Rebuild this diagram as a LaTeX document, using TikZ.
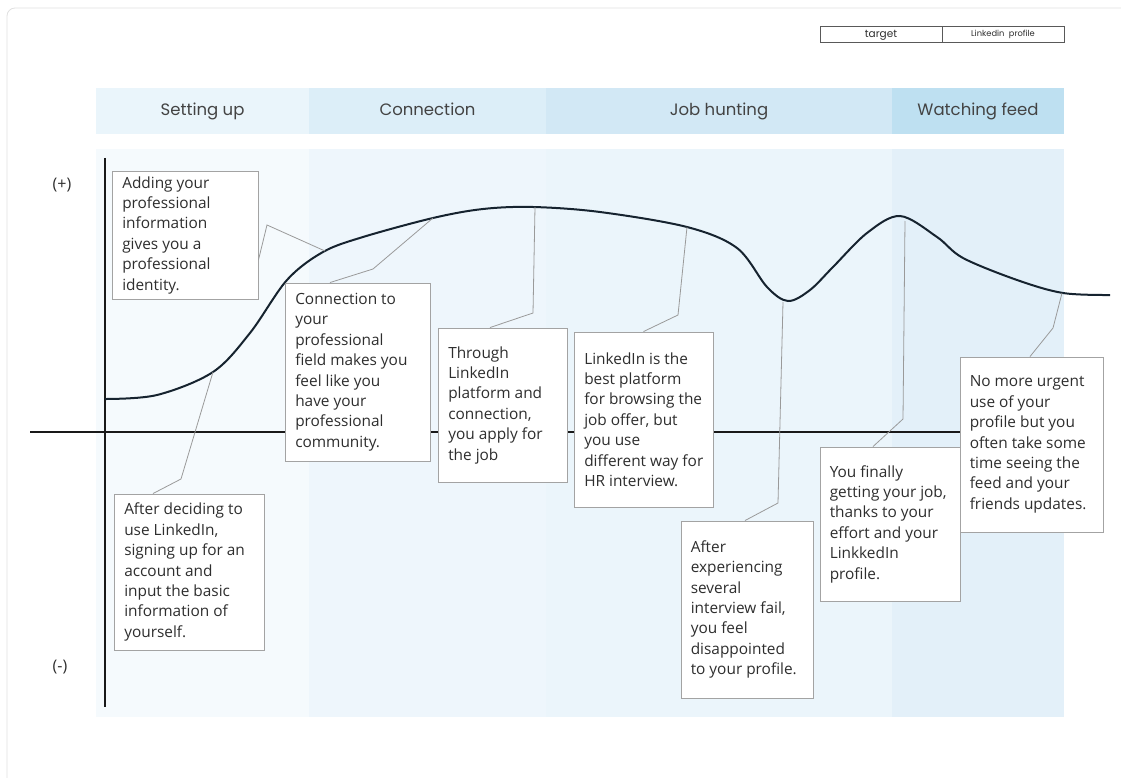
\documentclass[tikz,border=0pt]{standalone}
\usepackage{fontspec}
\setmainfont{Open Sans}
\newfontfamily\headfont{Poppins}
\definecolor{hA}{HTML}{EAF5FB}
\definecolor{hB}{HTML}{DCEEF8}
\definecolor{hC}{HTML}{D2E8F5}
\definecolor{hD}{HTML}{BEE0F1}
\definecolor{bA}{HTML}{F5FAFD}
\definecolor{bB}{HTML}{EEF6FC}
\definecolor{bC}{HTML}{EBF5FB}
\definecolor{bD}{HTML}{E3F0F9}
\definecolor{boxgray}{HTML}{A3A3A3}
\definecolor{leadgray}{HTML}{9A9A9A}
\definecolor{txt}{HTML}{2E2E2E}
\definecolor{curvec}{HTML}{16232F}
\begin{document}
\begin{tikzpicture}[x=1pt,y=-1pt,
  tbox/.style={draw=boxgray, fill=white, line width=0.9pt, inner sep=0pt},
  ttext/.style={anchor=west, align=left, inner sep=0pt, text=txt, font=\fontsize{15.4pt}{20.4pt}\selectfont},
  leader/.style={draw=leadgray, line width=0.8pt},
  hdr/.style={inner sep=0pt, text height=12pt, text depth=3.5pt, text=txt!90, font=\headfont\fontsize{16.5pt}{19pt}\selectfont},
  tab/.style={draw=black!65, line width=0.7pt, inner sep=0pt, minimum height=16pt, text height=7.5pt, text depth=2pt, text=txt, font=\headfont\fontsize{10.5pt}{11pt}\selectfont}]
\useasboundingbox (0,0) rectangle (1121,778);
\begin{scope}
\clip (0,0) rectangle (1121,778);
\draw[black!12, line width=0.8pt, rounded corners=8pt] (7,8) rectangle (1160,820);
\end{scope}
% table at top right
\node[tab, minimum width=122pt] (tg) at (881,34.5) {target};
\node[tab, minimum width=122pt, text height=6pt, text depth=1.8pt, font=\headfont\fontsize{8.3pt}{9pt}\selectfont] (lp) at (1003,34.5) {Linkedin\ \ profile};
% header bands
\node[hdr, fill=hA, minimum width=213pt, minimum height=46pt] (p1) at (202.5,111) {Setting up};
\node[hdr, fill=hB, minimum width=237pt, minimum height=46pt] (p2) at (427.5,111) {Connection};
\node[hdr, fill=hC, minimum width=346pt, minimum height=46pt] (p3) at (719,111) {Job hunting};
\node[hdr, fill=hD, minimum width=172pt, minimum height=46pt] (p4) at (978,111) {Watching feed};
% body bands
\fill[bA] (96,149) rectangle (309,717);
\fill[bB] (309,149) rectangle (546,717);
\fill[bC] (546,149) rectangle (892,717);
\fill[bD] (892,149) rectangle (1064,717);
% axes
\coordinate (yt) at (105,158);
\coordinate (yb) at (105,707);
\coordinate (xl) at (30,432);
\coordinate (xr) at (1065,432);
\draw[black!90, line width=1.7pt] (yt) -- (yb);
\draw[black!90, line width=1.7pt] (xl) -- (xr);
\node[text=txt, font=\fontsize{16pt}{18pt}\selectfont] (plus) at (62,185) {(+)};
\node[text=txt, font=\fontsize{16pt}{18pt}\selectfont] (minus) at (60,667) {(-)};
% curve
\draw[curvec, line width=2pt] plot[smooth, tension=0.55] coordinates {
 (105,399) (157,395) (213,372) (250,333) (287,280) (323,252) (363,237) (433,218) (483,209) (533,207) (600,212) (687,227) (737,248) (767,287) (788,301) (810,290) (833,267) (867,233) (900,216) (937,237) (963,258) (1017,280) (1063,293) (1110,295)};
% curve points and bends
\coordinate (c1) at (325,251); \coordinate (k1) at (267,225);
\coordinate (c2) at (433,218); \coordinate (k2) at (373,269);
\coordinate (c3) at (535,207); \coordinate (k3) at (533,313);
\coordinate (c4) at (687,227); \coordinate (k4) at (678,315);
\coordinate (c5) at (783,302); \coordinate (k5) at (778,503);
\coordinate (c6) at (905,221); \coordinate (k6) at (903,419);
\coordinate (c7) at (1062,293); \coordinate (k7) at (1053,328);
\coordinate (c8) at (213,372); \coordinate (k8) at (181,479);
% boxes
\node[tbox, minimum width=146pt, minimum height=128pt] (b1) at (185,235) {};
\node[tbox, minimum width=145pt, minimum height=178pt] (b2) at (357.5,372) {};
\node[tbox, minimum width=129pt, minimum height=154pt] (b3) at (502.5,405) {};
\node[tbox, minimum width=139pt, minimum height=175pt] (b4) at (643.5,419.5) {};
\node[tbox, minimum width=132pt, minimum height=177pt] (b5) at (747,609.5) {};
\node[tbox, minimum width=140pt, minimum height=154pt] (b6) at (890,524) {};
\node[tbox, minimum width=143pt, minimum height=175pt] (b7) at (1031.5,444.5) {};
\node[tbox, minimum width=150pt, minimum height=156pt] (b8) at (189,572) {};
% texts
\node[ttext] (t1) at ([xshift=10.5pt]b1.west) {Adding your\\professional\\information\\gives you a\\professional\\identity.};
\node[ttext] (t2) at ([xshift=10.5pt]b2.west) {Connection to\\your\\professional\\field makes you\\feel like you\\have your\\professional\\community.};
\node[ttext] (t3) at ([xshift=10.5pt]b3.west) {Through\\LinkedIn\\platform and\\connection,\\you apply for\\the job};
\node[ttext] (t4) at ([xshift=10.5pt]b4.west) {LinkedIn is the\\best platform\\for browsing the\\job offer, but\\you use\\different way for\\HR interview.};
\node[ttext] (t5) at ([xshift=10pt]b5.west) {After\\experiencing\\several\\interview fail,\\you feel\\disappointed\\to your profile.};
\node[ttext] (t6) at ([xshift=10pt]b6.west) {You finally\\getting your job,\\thanks to your\\effort and your\\LinkkedIn\\profile.};
\node[ttext] (t7) at ([xshift=10pt]b7.west) {No more urgent\\use of your\\profile but you\\often take some\\time seeing the\\feed and your\\friends updates.};
\node[ttext] (t8) at ([xshift=10.5pt]b8.west) {After deciding to\\use LinkedIn,\\signing up for an\\account and\\input the basic\\information of\\yourself.};
% leaders
\draw[leader] ([yshift=-25pt]b1.east) -- (k1) -- (c1);
\draw[leader] ([xshift=-27.5pt]b2.north) -- (k2) -- (c2);
\draw[leader] ([xshift=-12.5pt]b3.north) -- (k3) -- (c3);
\draw[leader] (b4.north) -- (k4) -- (c4);
\draw[leader] ([xshift=-2pt]b5.north) -- (k5) -- (c5);
\draw[leader] ([xshift=-17pt]b6.north) -- (k6) -- (c6);
\draw[leader] ([xshift=-1.5pt]b7.north) -- (k7) -- (c7);
\draw[leader] ([xshift=-36pt]b8.north) -- (k8) -- (c8);
\end{tikzpicture}
\end{document}
